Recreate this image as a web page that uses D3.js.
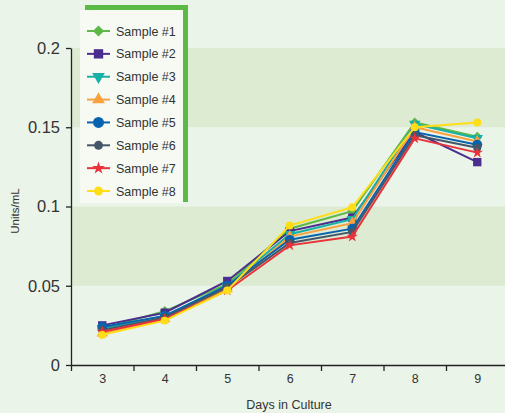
<!DOCTYPE html>
<html><head><meta charset="utf-8">
<script src="https://cdn.jsdelivr.net/npm/d3@7"></script>
<style>
html,body{margin:0;padding:0;background:#ebf4e9;}
svg{display:block;font-family:"Liberation Sans Narrow","Arial Narrow","Liberation Sans",sans-serif;}
</style></head>
<body>
<svg id="chart" width="505" height="413"></svg>
<script>
const days = [3, 4, 5, 6, 7, 8, 9];
const seriesNames = ["Sample #1","Sample #2","Sample #3","Sample #4","Sample #5","Sample #6","Sample #7","Sample #8"];
const s1 = [0.023, 0.034, 0.051, 0.086, 0.097, 0.153, 0.144];
const s2 = [0.025, 0.033, 0.053, 0.0845, 0.093, 0.147, 0.128];
const s3 = [0.023, 0.031, 0.050, 0.0825, 0.092, 0.152, 0.143];
const s4 = [0.020, 0.029, 0.048, 0.081, 0.0895, 0.150, 0.141];
const s5 = [0.024, 0.031, 0.050, 0.079, 0.086, 0.147, 0.139];
const s6 = [0.022, 0.030, 0.049, 0.077, 0.084, 0.145, 0.137];
const s7 = [0.021, 0.029, 0.047, 0.0755, 0.081, 0.143, 0.134];
const s8 = [0.019, 0.028, 0.047, 0.088, 0.0995, 0.150, 0.153];
const seriesValues = [s1, s2, s3, s4, s5, s6, s7, s8];
const colors = ["#5db847","#4b2c8f","#16b0a6","#f9a03f","#0763ae","#44566a","#e8333a","#ffde17"];
const yTicks = [0, 0.05, 0.1, 0.15, 0.2];
const yTickLabels = ["0", "0.05", "0.1", "0.15", "0.2"];
const bands = [[0.05, 0.1], [0.15, 0.2]];

const svg = d3.select("#chart");
const x = d3.scaleLinear().domain([2.5, 9.5]).range([71, 508.5]);
const y = d3.scaleLinear().domain([0, 0.2]).range([365, 48]);

// bands
svg.append("g").selectAll("rect").data(bands).join("rect")
  .attr("x", x(2.5)).attr("width", 505 - x(2.5))
  .attr("y", d => y(d[1])).attr("height", d => y(d[0]) - y(d[1]))
  .attr("fill", "#ddebd3");

// axes
const yAxis = svg.append("g").attr("transform", `translate(${x(2.5)},0)`)
  .call(d3.axisLeft(y).tickValues(yTicks).tickFormat((d,i)=>yTickLabels[i]).tickSize(5).tickSizeOuter(0).tickPadding(6));
yAxis.selectAll("text").attr("font-size", 16.5).attr("fill", "#333").attr("font-family", "inherit");
yAxis.selectAll("line,path").attr("stroke", "#222").attr("stroke-width", 1.3);

const xAxisTicks = svg.append("g").attr("transform", `translate(0,${y(0)})`)
  .call(d3.axisBottom(x).tickValues(d3.range(2.5, 9.6, 1)).tickFormat("").tickSize(6).tickSizeOuter(0));
xAxisTicks.selectAll("line,path").attr("stroke", "#222").attr("stroke-width", 1.3);

const xAxisLabels = svg.append("g").attr("transform", `translate(0,${y(0)})`)
  .call(d3.axisBottom(x).tickValues(days).tickFormat(d3.format("d")).tickSize(0).tickPadding(9));
xAxisLabels.select(".domain").remove();
xAxisLabels.selectAll("text").attr("font-size", 12.5).attr("fill", "#333").attr("font-family", "inherit");

svg.append("text").attr("x", 289).attr("y", 409).attr("text-anchor", "middle")
  .attr("font-size", 12.5).attr("fill", "#333").text("Days in Culture");
svg.append("text").attr("transform", "translate(19,211) rotate(-90)").attr("text-anchor", "middle")
  .attr("font-size", 11.5).attr("fill", "#333").text("Units/mL");

// symbols
const symDefs = [
  {t: d3.symbolSquare, s: 50, r: 45},
  {t: d3.symbolSquare, s: 70, r: 0},
  {t: d3.symbolTriangle, s: 55, r: 180},
  {t: d3.symbolTriangle, s: 55, r: 0},
  {t: d3.symbolCircle, s: 75, r: 0},
  {t: d3.symbolCircle, s: 50, r: 0},
  {t: d3.symbolStar, s: 40, r: 0},
  {t: d3.symbolCircle, s: 50, r: 0}
];

const line = d3.line().x((d,i)=>x(days[i])).y(d=>y(d));
seriesValues.forEach((vals, k) => {
  const g = svg.append("g");
  g.append("path").attr("d", line(vals)).attr("fill", "none")
    .attr("stroke", colors[k]).attr("stroke-width", 2);
  g.selectAll("path.m").data(vals).join("path").attr("class","m")
    .attr("d", d3.symbol().type(symDefs[k].t).size(symDefs[k].s))
    .attr("transform", (d,i)=>`translate(${x(days[i])},${y(d)}) rotate(${symDefs[k].r})`)
    .attr("fill", colors[k]);
});

// legend
const lg = svg.append("g");
lg.append("rect").attr("x", 85).attr("y", 5).attr("width", 103).attr("height", 197).attr("fill", "#5bb946");
lg.append("rect").attr("x", 80).attr("y", 10).attr("width", 103).attr("height", 193).attr("fill", "#f6faf3");
seriesNames.forEach((name, k) => {
  const cy = 31 + k * 22.86;
  lg.append("line").attr("x1", 87).attr("x2", 110).attr("y1", cy).attr("y2", cy)
    .attr("stroke", colors[k]).attr("stroke-width", 2);
  lg.append("path").attr("d", d3.symbol().type(symDefs[k].t).size(symDefs[k].s * 1.25))
    .attr("transform", `translate(98.5,${cy}) rotate(${symDefs[k].r})`).attr("fill", colors[k]);
  lg.append("text").attr("x", 116).attr("y", cy + 4.5).attr("font-size", 12.5).attr("fill", "#333").text(name);
});
</script>
</body></html>
